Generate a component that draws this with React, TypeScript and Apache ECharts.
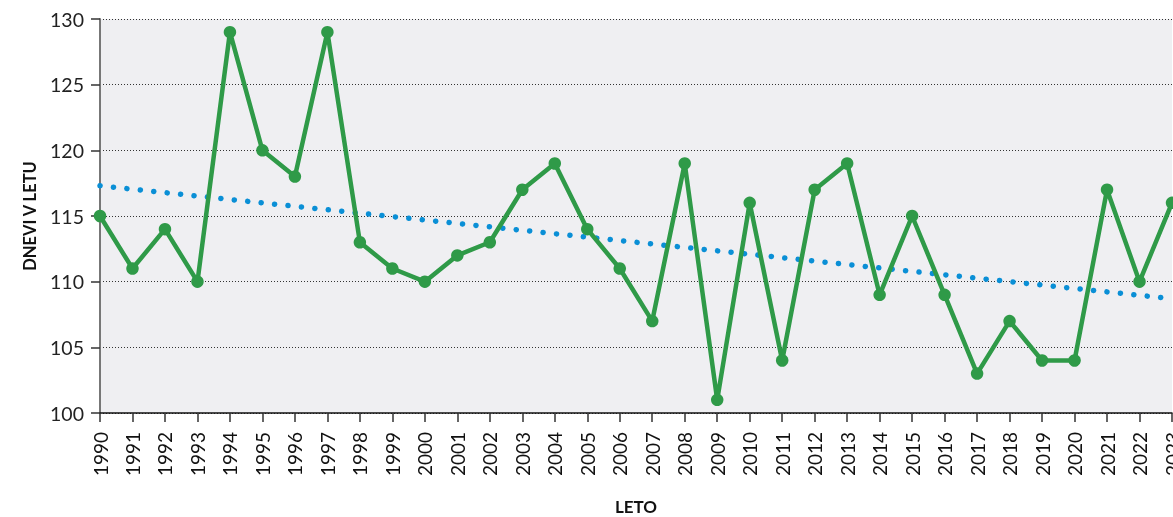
import React, { useEffect, useRef } from "react";
import * as echarts from "echarts";

const years = ["1990","1991","1992","1993","1994","1995","1996","1997","1998","1999","2000","2001","2002","2003","2004","2005","2006","2007","2008","2009","2010","2011","2012","2013","2014","2015","2016","2017","2018","2019","2020","2021","2022","2023"];
const days = [115,111,114,110,129,120,118,129,113,111,110,112,113,117,119,114,111,107,119,101,116,104,117,119,109,115,109,103,107,104,104,117,110,116];
const trendStart = 117.3;
const trendEnd = 108.7;
const yTicks = { min: 100, max: 130, interval: 5 };

export default function App() {
  const ref = useRef<HTMLDivElement>(null);
  useEffect(() => {
    if (!ref.current) return;
    const chart = echarts.init(ref.current, null, { renderer: "svg" });
    const font = "Lato";
    chart.setOption({
      animation: false,
      grid: {
        left: 100, right: 18, top: 19, bottom: 104,
        outerBoundsMode: "none",
        containLabel: false,
        show: true, backgroundColor: "#efeff2", borderWidth: 0,
      },
      xAxis: {
        type: "category",
        data: years,
        boundaryGap: false,
        name: "LETO",
        nameLocation: "middle",
        nameGap: 85,
        nameTextStyle: { fontFamily: font, fontWeight: "bold", fontSize: 17, color: "#111" },
        axisLine: { lineStyle: { color: "#111", width: 1.5 } },
        axisTick: { show: true, length: 9, lineStyle: { color: "#333", width: 1.5 } },
        axisLabel: { rotate: 90, fontFamily: font, fontSize: 19, color: "#111", margin: 19, interval: 0 },
        splitLine: { show: false },
      },
      yAxis: {
        type: "value",
        min: yTicks.min, max: yTicks.max, interval: yTicks.interval,
        name: "DNEVI V LETU",
        nameLocation: "middle",
        nameGap: 62,
        nameTextStyle: { fontFamily: font, fontWeight: "bold", fontSize: 16.5, color: "#111" },
        axisLine: { show: true, lineStyle: { color: "#777", width: 2 } },
        axisTick: { show: true, length: 9, lineStyle: { color: "#333", width: 1.5 } },
        axisLabel: { fontFamily: font, fontSize: 19.5, color: "#222", margin: 16 },
        splitLine: { show: true, lineStyle: { color: "#333", width: 1, type: [1, 2] } },
      },
      series: [
        {
          type: "line",
          data: [[years[0], trendStart], [years[years.length - 1], trendEnd]],
          symbol: "none",
          lineStyle: { color: "#0a8fd6", width: 5.5, type: [0.1, 13.4], cap: "round" },
          z: 2,
        },
        {
          type: "line",
          data: days,
          symbol: "circle",
          symbolSize: 12.5,
          itemStyle: { color: "#2f9a48" },
          lineStyle: { color: "#2f9a48", width: 4.5 },
          z: 3,
        },
      ],
    });
    return () => chart.dispose();
  }, []);
  return (
    <div
      ref={ref}
      style={{ position: "fixed", left: 0, top: 0, width: 1190, height: 517 }}
    />
  );
}
